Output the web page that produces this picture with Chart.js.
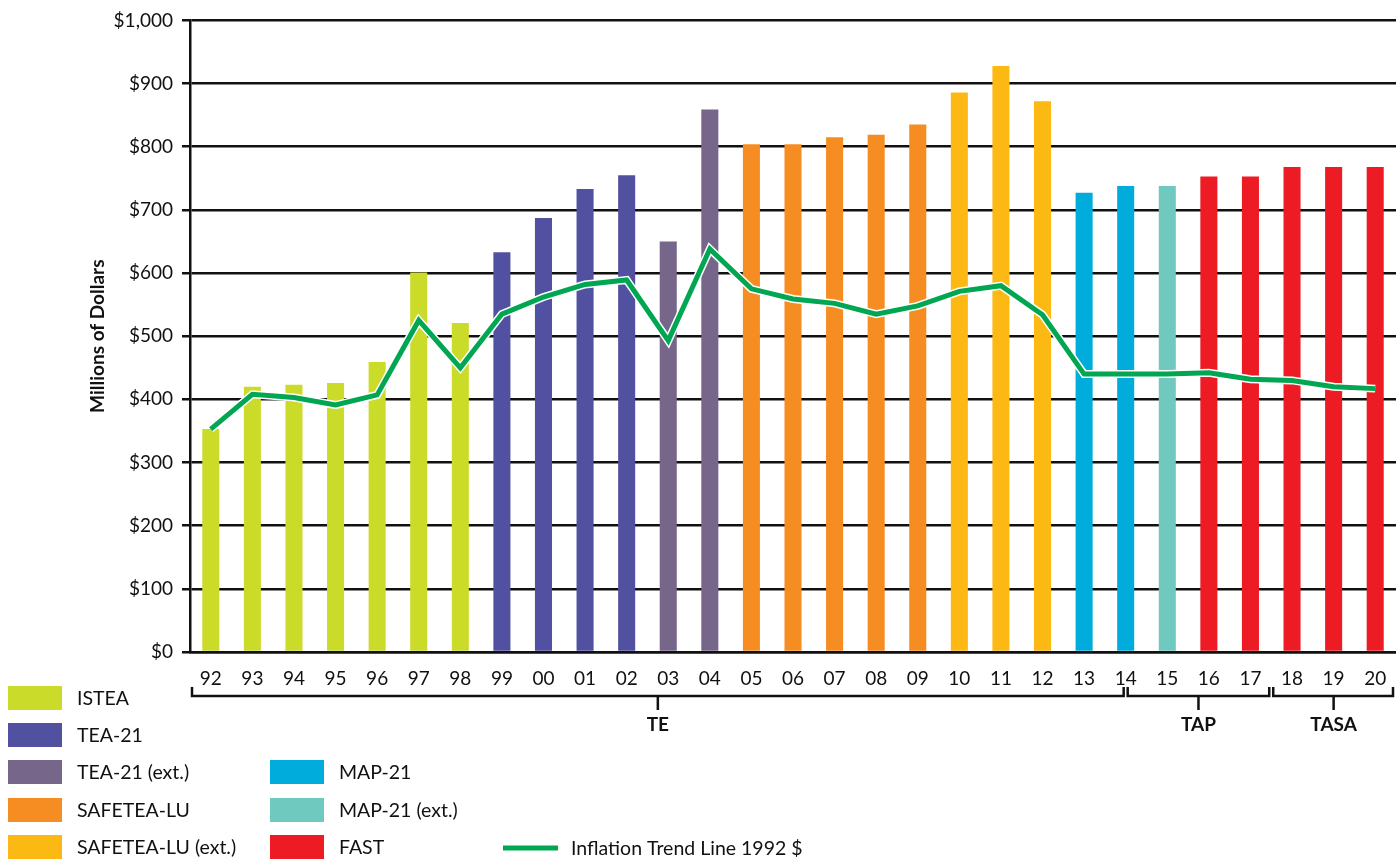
<!DOCTYPE html>
<html lang="en">
<head>
  <meta charset="UTF-8">
  <title>TE / TAP / TASA funding</title>
  <script src="https://cdn.jsdelivr.net/npm/chart.js"></script>
  <style>
    html, body { margin: 0; padding: 0; background: #fff; }
    #wrap { width: 1396px; height: 859px; }
  </style>
</head>
<body>
  <div id="wrap"><canvas id="grafico" width="1396" height="859"></canvas></div>
  <script>
    // fiscal years (x axis)
    const anos = ["92","93","94","95","96","97","98","99","00","01","02","03","04","05","06","07","08","09","10","11","12","13","14","15","16","17","18","19","20"];
    // apportionment per year, millions of dollars
    const valores = [353,420,423,426,459,601,521,633,687,733,755,650,859,804,804,815,819,835,886,928,872,727,738,738,753,753,768,768,768];
    // inflation trend line, 1992 dollars
    const inflacao = [353,408,403,391,407,525,450,535,562,582,589,493,638,575,559,552,535,548,571,580,534,440,440,440,442,432,430,420,417];
    // program for each year
    const programa = ["ISTEA","ISTEA","ISTEA","ISTEA","ISTEA","ISTEA","ISTEA","TEA-21","TEA-21","TEA-21","TEA-21","TEA-21 (ext.)","TEA-21 (ext.)","SAFETEA-LU","SAFETEA-LU","SAFETEA-LU","SAFETEA-LU","SAFETEA-LU","SAFETEA-LU (ext.)","SAFETEA-LU (ext.)","SAFETEA-LU (ext.)","MAP-21","MAP-21","MAP-21 (ext.)","FAST","FAST","FAST","FAST","FAST"];

    const programas = ["ISTEA","TEA-21","TEA-21 (ext.)","SAFETEA-LU","SAFETEA-LU (ext.)","MAP-21","MAP-21 (ext.)","FAST"];
    const cores = ["#cbdb2a","#5250a1","#75668a","#f68d22","#fdb913","#00acdb","#6fc9be","#ed1c24"];
    const corLinha = "#00a651";
    const rotuloLinha = "Inflation Trend Line 1992 $";

    // brackets under the axis, in category positions
    const chaves = ["TE","TAP","TASA"];
    const chaveIni = [-0.5, 22, 25.5];
    const chaveFim = [22, 25.5, 28.5];

    const fonte = "Lato, 'Open Sans', sans-serif";
    const corDe = p => cores[programas.indexOf(p)];

    // legend + brackets drawn by hand
    const extras = {
      id: "extras",
      afterDraw(chart) {
        const ctx = chart.ctx;
        const x = chart.scales.x;
        const passo = x.getPixelForValue(1) - x.getPixelForValue(0);
        const px = v => x.getPixelForValue(0) + v * passo;
        ctx.save();
        ctx.strokeStyle = "#111";
        ctx.lineWidth = 2.5;
        ctx.fillStyle = "#111";
        ctx.font = "bold 19px " + fonte;
        ctx.textAlign = "center";
        ctx.textBaseline = "middle";
        const yb = 696;
        chaves.forEach((nome, i) => {
          const a = Math.max(px(chaveIni[i]) + 2, chart.chartArea.left + 2);
          const b = Math.min(px(chaveFim[i]) - 2, chart.chartArea.right - 3);
          const m = px((chaveIni[i] + chaveFim[i]) / 2);
          ctx.beginPath();
          ctx.moveTo(a, yb - 9); ctx.lineTo(a, yb); ctx.lineTo(b, yb); ctx.lineTo(b, yb - 9);
          ctx.moveTo(m, yb); ctx.lineTo(m, yb + 14);
          ctx.stroke();
          ctx.fillText(nome, m, yb + 29);
        });

        // legend
        ctx.font = "19.5px " + fonte;
        ctx.textAlign = "left";
        const linhas = [698, 735, 772, 810, 847];
        programas.forEach((p, i) => {
          const col = i < 5 ? 0 : 1;
          const y = col === 0 ? linhas[i] : linhas[i - 3];
          const sx = col === 0 ? 8 : 270;
          ctx.fillStyle = cores[i];
          ctx.fillRect(sx, y - 12, 54, 24);
          ctx.fillStyle = "#111";
          ctx.fillText(p, sx + 69, y + 1);
        });
        ctx.strokeStyle = corLinha;
        ctx.lineWidth = 5;
        ctx.beginPath();
        ctx.moveTo(503, 848); ctx.lineTo(558, 848);
        ctx.stroke();
        ctx.fillStyle = "#111";
        ctx.fillText(rotuloLinha, 571, 849);
        ctx.restore();
      }
    };

    new Chart(document.getElementById("grafico"), {
      type: "bar",
      data: {
        labels: anos,
        datasets: [
          {
            type: "line",
            label: rotuloLinha,
            data: inflacao,
            borderColor: corLinha,
            borderWidth: 5,
            pointRadius: 0,
            tension: 0,
            order: 0
          },
          {
            type: "line",
            label: "contorno",
            data: inflacao,
            borderColor: "#ffffff",
            borderWidth: 8,
            pointRadius: 0,
            tension: 0,
            order: 1
          },
          {
            label: "Apportionment",
            data: valores,
            backgroundColor: programa.map(corDe),
            barPercentage: 0.41,
            categoryPercentage: 1,
            order: 2
          }
        ]
      },
      options: {
        responsive: false,
        maintainAspectRatio: false,
        animation: false,
        layout: { padding: { top: 18, left: 86, right: 0, bottom: 0 } },
        plugins: { legend: { display: false }, tooltip: { enabled: false } },
        scales: {
          x: {
            afterFit: s => { s.height = 207; },
            grid: { display: false },
            border: { color: "#111", width: 2.5 },
            ticks: { color: "#111", font: { family: fonte, size: 19 }, padding: 7, maxRotation: 0 }
          },
          y: {
            min: 0,
            max: 1000,
            afterFit: s => { s.width = 104; },
            grid: { color: "#111", lineWidth: 2.5, tickLength: 8 },
            border: { color: "#111", width: 2.5 },
            ticks: {
              stepSize: 100,
              color: "#111",
              padding: 9,
              font: { family: fonte, size: 19 },
              callback: v => "$" + v.toLocaleString("en-US")
            },
            title: {
              display: true,
              text: "Millions of Dollars",
              color: "#111",
              font: { family: fonte, size: 19, weight: "bold" },
              padding: { top: 0, bottom: 0 }
            }
          }
        }
      },
      plugins: [extras]
    });
  </script>
</body>
</html>
